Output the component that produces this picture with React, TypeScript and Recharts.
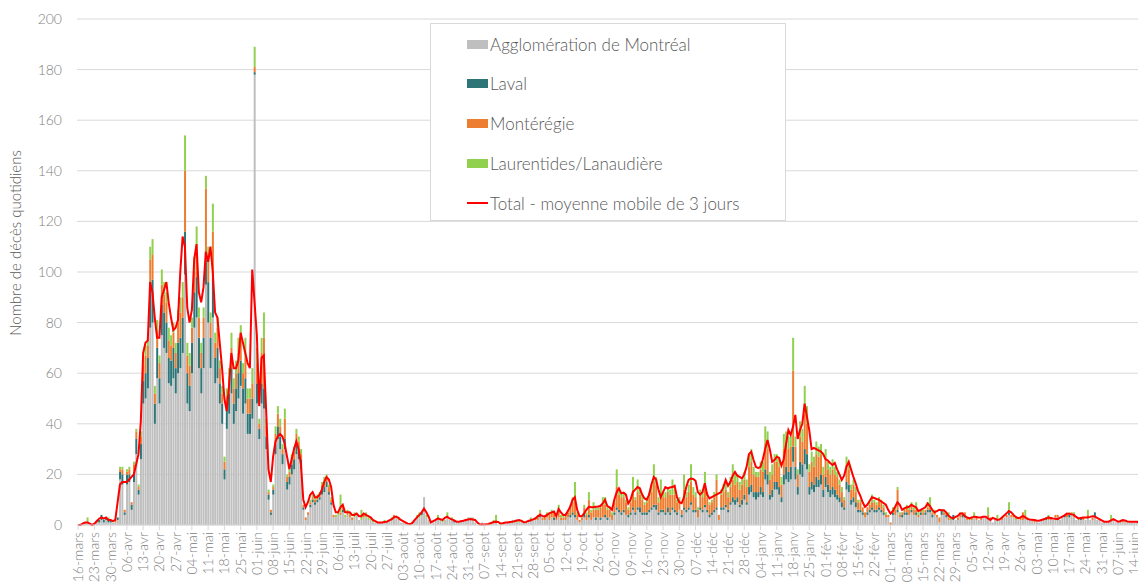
import { Bar, CartesianGrid, ComposedChart, Line, XAxis, YAxis } from "recharts";

// Décès quotidiens par région, du 16 mars 2020 au 16 juin 2021 (une ligne = une semaine)
const DEBUT = Date.UTC(2020, 2, 16);
const moisAbr = ["janv", "févr", "mars", "avr", "mai", "juin", "juil", "août", "sept", "oct", "nov", "déc"];

const agglomerationMontreal = [
  0, 0, 1, 1, 1, 0, 0, // 16-mars
  0, 1, 1, 2, 1, 2, 1, // 23-mars
  1, 1, 1, 2, 18, 16, 4, // 30-mars
  16, 17, 6, 17, 28, 12, 26, // 06-avr
  48, 50, 54, 78, 80, 40, 58, // 13-avr
  48, 75, 70, 68, 56, 55, 58, // 20-avr
  52, 60, 62, 68, 99, 48, 45, // 27-avr
  60, 78, 82, 62, 52, 62, 95, // 04-mai
  80, 62, 82, 56, 58, 48, 40, // 11-mai
  18, 38, 44, 52, 40, 45, 50, // 18-mai
  55, 44, 48, 36, 36, 42, 178, // 25-mai
  48, 34, 48, 46, 30, 10, 4, // 01-juin
  12, 28, 34, 30, 24, 30, 14, // 08-juin
  16, 20, 22, 28, 26, 22, 6, // 15-juin
  2, 4, 7, 9, 8, 9, 10, // 22-juin
  12, 13, 15, 12, 8, 3, 3, // 29-juin
  4, 4, 5, 3, 4, 3, 2, // 06-juil
  3, 4, 2, 2, 3, 3, 2, // 13-juil
  2, 1, 1, 1, 1, 1, 1, // 20-juil
  1, 2, 2, 3, 3, 2, 1, // 27-juil
  1, 1, 0, 0, 1, 2, 3, // 03-août
  3, 4, 11, 3, 2, 0, 1, // 10-août
  2, 2, 2, 1, 2, 3, 2, // 17-août
  2, 1, 1, 1, 2, 2, 2, // 24-août
  3, 2, 3, 1, 0, 0, 1, // 31-août
  0, 0, 1, 1, 1, 1, 0, // 07-sept
  0, 1, 1, 1, 1, 2, 1, // 14-sept
  2, 1, 2, 1, 1, 2, 2, // 21-sept
  2, 2, 2, 3, 2, 2, 3, // 28-sept
  2, 3, 2, 2, 3, 2, 2, // 05-oct
  2, 3, 3, 4, 3, 2, 1, // 12-oct
  2, 3, 2, 3, 2, 3, 2, // 19-oct
  3, 2, 3, 3, 2, 3, 2, // 26-oct
  4, 6, 5, 4, 5, 4, 3, // 02-nov
  4, 6, 4, 6, 5, 4, 4, // 09-nov
  4, 5, 6, 7, 6, 4, 5, // 16-nov
  5, 4, 5, 4, 6, 5, 4, // 23-nov
  6, 3, 6, 5, 6, 8, 5, // 30-nov
  5, 3, 6, 5, 7, 5, 3, // 07-déc
  4, 5, 6, 2, 6, 6, 7, // 14-déc
  5, 8, 9, 8, 9, 7, 8, // 21-déc
  10, 8, 12, 13, 11, 10, 11, // 28-déc
  12, 11, 18, 16, 10, 11, 14, // 04-janv
  14, 12, 9, 16, 18, 17, 18, // 11-janv
  25, 18, 12, 20, 19, 24, 22, // 18-janv
  12, 14, 13, 15, 15, 16, 11, // 25-janv
  15, 13, 11, 12, 11, 10, 9, // 01-févr
  7, 6, 14, 13, 8, 9, 7, // 08-févr
  5, 5, 4, 3, 4, 5, 6, // 15-févr
  5, 5, 6, 5, 4, 3, 3, // 22-févr
  0, 4, 4, 5, 3, 3, 4, // 01-mars
  4, 4, 5, 4, 4, 3, 4, // 08-mars
  4, 4, 5, 5, 3, 4, 3, // 15-mars
  1, 4, 4, 3, 2, 2, 2, // 22-mars
  2, 2, 3, 3, 3, 2, 2, // 29-mars
  2, 3, 2, 2, 2, 3, 3, // 05-avr
  3, 2, 1, 2, 2, 2, 2, // 12-avr
  3, 3, 4, 3, 3, 2, 2, // 19-avr
  2, 2, 3, 2, 2, 2, 1, // 26-avr
  2, 1, 2, 2, 2, 2, 2, // 03-mai
  2, 3, 2, 2, 3, 3, 3, // 10-mai
  3, 4, 3, 2, 2, 2, 2, // 17-mai
  2, 3, 2, 2, 3, 2, 2, // 24-mai
  1, 1, 1, 1, 2, 2, 1, // 31-mai
  1, 2, 1, 2, 1, 1, 1, // 07-juin
  1, 1, 1, // 14-juin
];

const laval = [
  0, 0, 0, 0, 0, 0, 0, // 16-mars
  0, 0, 1, 2, 1, 1, 1, // 23-mars
  1, 0, 0, 1, 3, 4, 1, // 30-mars
  4, 3, 2, 4, 6, 2, 6, // 06-avr
  9, 10, 12, 18, 17, 8, 12, // 13-avr
  10, 12, 14, 12, 10, 10, 12, // 20-avr
  10, 12, 12, 14, 17, 12, 10, // 27-avr
  12, 14, 16, 12, 10, 12, 10, // 04-mai
  16, 12, 16, 10, 12, 8, 8, // 11-mai
  4, 8, 8, 10, 8, 9, 10, // 18-mai
  10, 10, 10, 8, 8, 8, 1, // 25-mai
  8, 4, 8, 8, 5, 2, 1, // 01-juin
  2, 4, 5, 5, 4, 4, 3, // 08-juin
  3, 4, 4, 4, 3, 4, 1, // 15-juin
  0, 0, 1, 1, 1, 1, 1, // 22-juin
  2, 2, 2, 1, 1, 0, 0, // 29-juin
  0, 0, 1, 0, 0, 0, 0, // 06-juil
  0, 0, 0, 0, 0, 0, 0, // 13-juil
  0, 0, 0, 0, 0, 0, 0, // 20-juil
  0, 0, 0, 0, 0, 0, 0, // 27-juil
  0, 0, 0, 0, 0, 0, 0, // 03-août
  0, 1, 0, 0, 0, 0, 0, // 10-août
  0, 0, 0, 0, 0, 0, 0, // 17-août
  0, 1, 0, 0, 0, 0, 0, // 24-août
  0, 0, 0, 0, 0, 0, 0, // 31-août
  0, 0, 0, 0, 0, 0, 0, // 07-sept
  0, 0, 0, 0, 0, 0, 0, // 14-sept
  0, 0, 0, 0, 0, 0, 0, // 21-sept
  0, 0, 0, 1, 0, 0, 0, // 28-sept
  0, 0, 1, 0, 0, 0, 0, // 05-oct
  0, 0, 1, 1, 1, 0, 0, // 12-oct
  0, 2, 0, 1, 0, 0, 1, // 19-oct
  0, 1, 0, 1, 1, 0, 0, // 26-oct
  1, 1, 1, 1, 1, 0, 1, // 02-nov
  1, 1, 1, 1, 2, 1, 1, // 09-nov
  1, 1, 1, 1, 2, 1, 1, // 16-nov
  1, 1, 2, 1, 1, 1, 1, // 23-nov
  0, 1, 1, 1, 1, 1, 1, // 30-nov
  1, 0, 1, 1, 1, 1, 1, // 07-déc
  1, 1, 1, 0, 1, 1, 1, // 14-déc
  1, 1, 2, 2, 2, 1, 2, // 21-déc
  2, 1, 3, 3, 2, 3, 2, // 28-déc
  3, 2, 4, 4, 2, 3, 3, // 04-janv
  3, 3, 2, 4, 5, 4, 5, // 11-janv
  6, 5, 3, 5, 5, 6, 6, // 18-janv
  3, 3, 3, 4, 3, 4, 3, // 25-janv
  4, 3, 3, 3, 3, 2, 2, // 01-févr
  2, 1, 3, 3, 2, 2, 2, // 08-févr
  1, 1, 1, 0, 1, 1, 1, // 15-févr
  1, 1, 1, 1, 1, 0, 0, // 22-févr
  0, 1, 0, 1, 0, 1, 1, // 01-mars
  1, 0, 1, 0, 1, 0, 1, // 08-mars
  0, 1, 1, 1, 1, 0, 0, // 15-mars
  0, 2, 0, 1, 0, 0, 2, // 22-mars
  0, 0, 0, 1, 1, 0, 0, // 29-mars
  0, 0, 0, 0, 0, 0, 0, // 05-avr
  0, 0, 0, 0, 0, 0, 0, // 12-avr
  0, 0, 1, 0, 0, 0, 0, // 19-avr
  0, 0, 0, 0, 0, 0, 0, // 26-avr
  0, 0, 0, 0, 1, 0, 0, // 03-mai
  0, 0, 1, 0, 0, 1, 0, // 10-mai
  1, 0, 0, 0, 0, 1, 0, // 17-mai
  0, 0, 0, 0, 2, 0, 0, // 24-mai
  0, 0, 0, 0, 0, 0, 0, // 31-mai
  0, 0, 0, 0, 0, 0, 0, // 07-juin
  0, 0, 0, // 14-juin
];

const monteregie = [
  0, 0, 0, 0, 0, 0, 0, // 16-mars
  0, 0, 0, 0, 0, 0, 0, // 23-mars
  0, 0, 1, 0, 1, 2, 1, // 30-mars
  1, 2, 1, 3, 3, 1, 3, // 06-avr
  6, 7, 5, 9, 10, 4, 7, // 13-avr
  6, 8, 7, 8, 7, 6, 6, // 20-avr
  6, 8, 10, 8, 24, 7, 8, // 27-avr
  6, 8, 10, 8, 6, 8, 28, // 04-mai
  8, 6, 18, 6, 8, 6, 4, // 11-mai
  3, 5, 6, 8, 6, 6, 8, // 18-mai
  8, 6, 8, 6, 6, 6, 2, // 25-mai
  8, 2, 12, 20, 4, 1, 1, // 01-juin
  1, 4, 5, 4, 2, 8, 2, // 08-juin
  2, 3, 3, 4, 4, 2, 1, // 15-juin
  1, 1, 1, 1, 1, 1, 1, // 22-juin
  2, 2, 2, 2, 1, 1, 0, // 29-juin
  0, 1, 1, 0, 1, 1, 1, // 06-juil
  0, 0, 0, 0, 1, 0, 0, // 13-juil
  0, 0, 0, 0, 0, 0, 0, // 20-juil
  0, 0, 0, 1, 0, 0, 0, // 27-juil
  0, 0, 0, 0, 0, 0, 0, // 03-août
  0, 0, 0, 0, 0, 0, 0, // 10-août
  0, 0, 0, 0, 0, 0, 0, // 17-août
  0, 0, 0, 0, 0, 0, 0, // 24-août
  0, 0, 0, 0, 0, 0, 0, // 31-août
  0, 0, 0, 0, 0, 1, 0, // 07-sept
  0, 0, 0, 0, 0, 0, 0, // 14-sept
  0, 0, 0, 0, 0, 0, 0, // 21-sept
  0, 1, 1, 1, 1, 1, 1, // 28-sept
  2, 2, 2, 1, 3, 1, 1, // 05-oct
  2, 2, 3, 4, 7, 2, 1, // 12-oct
  1, 2, 2, 6, 3, 3, 3, // 19-oct
  3, 4, 5, 4, 3, 3, 2, // 26-oct
  4, 8, 6, 6, 5, 5, 2, // 02-nov
  4, 7, 5, 6, 5, 5, 3, // 09-nov
  4, 5, 6, 9, 8, 4, 6, // 16-nov
  5, 6, 6, 7, 5, 6, 4, // 23-nov
  3, 2, 7, 5, 6, 8, 6, // 30-nov
  5, 3, 5, 5, 7, 5, 4, // 07-déc
  4, 5, 11, 2, 5, 6, 6, // 14-déc
  5, 6, 7, 6, 6, 6, 6, // 21-déc
  6, 6, 8, 9, 7, 6, 6, // 28-déc
  7, 8, 10, 10, 6, 6, 8, // 04-janv
  8, 8, 5, 10, 9, 9, 8, // 11-janv
  30, 8, 5, 10, 9, 14, 12, // 18-janv
  6, 8, 7, 9, 9, 8, 6, // 25-janv
  7, 6, 6, 7, 6, 7, 5, // 01-févr
  4, 3, 7, 6, 4, 5, 4, // 08-févr
  3, 3, 2, 2, 2, 2, 2, // 15-févr
  3, 2, 3, 3, 2, 1, 1, // 22-févr
  1, 1, 2, 8, 1, 1, 1, // 01-mars
  2, 2, 2, 2, 1, 1, 1, // 08-mars
  1, 1, 1, 1, 1, 1, 1, // 15-mars
  2, 0, 1, 1, 1, 0, 0, // 22-mars
  0, 1, 1, 1, 1, 1, 0, // 29-mars
  1, 0, 1, 0, 1, 0, 0, // 05-avr
  1, 1, 0, 0, 0, 0, 1, // 12-avr
  0, 1, 1, 1, 1, 0, 0, // 19-avr
  1, 3, 1, 0, 0, 0, 1, // 26-avr
  0, 0, 0, 0, 0, 1, 1, // 03-mai
  0, 1, 1, 0, 0, 0, 1, // 10-mai
  1, 1, 1, 0, 0, 0, 1, // 17-mai
  0, 1, 0, 1, 0, 0, 0, // 24-mai
  0, 0, 0, 0, 0, 0, 0, // 31-mai
  0, 0, 1, 0, 0, 0, 0, // 07-juin
  0, 0, 0, // 14-juin
];

const laurentidesLanaudiere = [
  0, 0, 0, 0, 2, 0, 0, // 16-mars
  0, 1, 0, 0, 0, 0, 1, // 23-mars
  0, 0, 0, 0, 1, 1, 0, // 30-mars
  1, 1, 0, 1, 1, 1, 2, // 06-avr
  3, 4, 3, 5, 6, 3, 4, // 13-avr
  3, 6, 5, 4, 5, 4, 4, // 20-avr
  4, 5, 6, 6, 14, 5, 5, // 27-avr
  4, 6, 10, 4, 4, 4, 5, // 04-mai
  6, 4, 11, 4, 4, 3, 3, // 11-mai
  2, 3, 4, 6, 4, 5, 6, // 18-mai
  6, 4, 8, 4, 4, 6, 8, // 25-mai
  6, 2, 6, 10, 3, 1, 0, // 01-juin
  1, 3, 3, 3, 2, 4, 1, // 08-juin
  1, 1, 2, 2, 2, 2, 0, // 15-juin
  0, 0, 1, 1, 1, 1, 1, // 22-juin
  1, 2, 1, 1, 1, 0, 1, // 29-juin
  1, 7, 0, 1, 1, 1, 0, // 06-juil
  2, 0, 0, 4, 0, 2, 1, // 13-juil
  1, 1, 0, 0, 0, 0, 1, // 20-juil
  0, 0, 1, 0, 0, 1, 0, // 27-juil
  0, 0, 0, 0, 0, 0, 1, // 03-août
  2, 0, 0, 1, 0, 0, 0, // 10-août
  0, 2, 0, 1, 0, 2, 0, // 17-août
  1, 0, 0, 0, 0, 0, 0, // 24-août
  0, 1, 0, 0, 0, 0, 0, // 31-août
  0, 0, 0, 0, 1, 2, 0, // 07-sept
  1, 0, 0, 0, 0, 0, 1, // 14-sept
  0, 1, 0, 0, 0, 0, 1, // 21-sept
  0, 0, 1, 1, 0, 1, 1, // 28-sept
  1, 1, 0, 0, 2, 1, 1, // 05-oct
  0, 1, 1, 2, 6, 1, 0, // 12-oct
  0, 1, 1, 3, 1, 3, 1, // 19-oct
  1, 1, 3, 3, 1, 1, 1, // 26-oct
  1, 7, 2, 2, 2, 1, 1, // 02-nov
  1, 5, 1, 5, 2, 2, 1, // 09-nov
  1, 2, 3, 7, 3, 2, 6, // 16-nov
  2, 2, 2, 2, 6, 2, 1, // 23-nov
  2, 0, 6, 2, 3, 7, 3, // 30-nov
  2, 1, 2, 2, 6, 2, 1, // 07-déc
  1, 2, 2, 0, 2, 3, 3, // 14-déc
  2, 4, 6, 4, 3, 3, 2, // 21-déc
  3, 3, 5, 5, 3, 2, 2, // 28-déc
  3, 4, 7, 7, 3, 4, 3, // 04-janv
  3, 4, 3, 6, 5, 5, 4, // 11-janv
  13, 4, 2, 6, 5, 11, 7, // 18-janv
  3, 4, 4, 5, 4, 4, 3, // 25-janv
  4, 3, 3, 4, 3, 2, 2, // 01-févr
  2, 1, 3, 3, 2, 2, 2, // 08-févr
  1, 1, 0, 0, 0, 1, 3, // 15-févr
  1, 1, 1, 1, 1, 1, 0, // 22-févr
  0, 1, 1, 1, 1, 0, 1, // 01-mars
  1, 1, 1, 1, 3, 1, 0, // 08-mars
  1, 0, 2, 4, 1, 1, 0, // 15-mars
  0, 0, 1, 0, 2, 1, 0, // 22-mars
  0, 0, 1, 0, 0, 0, 1, // 29-mars
  0, 2, 0, 0, 0, 0, 0, // 05-avr
  3, 0, 0, 0, 2, 0, 0, // 12-avr
  0, 0, 3, 0, 0, 1, 0, // 19-avr
  0, 0, 2, 1, 0, 0, 0, // 26-avr
  0, 0, 0, 0, 0, 1, 0, // 03-mai
  0, 0, 0, 0, 0, 0, 0, // 10-mai
  0, 0, 1, 0, 1, 0, 0, // 17-mai
  0, 2, 0, 0, 0, 0, 0, // 24-mai
  0, 0, 0, 0, 2, 0, 0, // 31-mai
  0, 0, 0, 0, 0, 0, 0, // 07-juin
  0, 0, 0, // 14-juin
];

const moyenneMobile = [
  0, 0, 0.5, 1, 1, 0.5, 0, // 16-mars
  0.5, 1.5, 2.5, 3, 2.5, 3, 2, // 23-mars
  2, 1.5, 2, 9, 16, 17, 17, // 30-mars
  17, 18, 19, 20, 24, 28, 41, // 06-avr
  68, 72, 73, 96, 92, 82, 74, // 13-avr
  74, 90, 93, 96, 88, 82, 77, // 20-avr
  78, 81, 100, 114, 110, 86, 80, // 27-avr
  85, 105, 111, 92, 88, 94, 108, // 04-mai
  104, 110, 100, 84, 82, 72, 62, // 11-mai
  50, 45, 55, 68, 62, 62, 65, // 18-mai
  76, 72, 68, 64, 62, 101, 88, // 25-mai
  75, 47, 66, 67, 45, 22, 17, // 01-juin
  27, 33, 35, 36, 35, 32, 27, // 08-juin
  22, 26, 30, 33, 30, 24, 10, // 15-juin
  7, 9, 12, 13, 11, 11, 12, // 22-juin
  14, 17, 19, 18, 15, 8, 5, // 29-juin
  5, 7, 8, 5, 5, 5, 4, // 06-juil
  4, 4.5, 3.5, 3.5, 4.5, 4, 3.5, // 13-juil
  3, 2, 1.5, 1, 1, 1, 1.2, // 20-juil
  1.3, 1.8, 2.2, 3, 3.3, 2.8, 2, // 27-juil
  1.5, 1, 0.5, 0.3, 0.8, 2, 3, // 03-août
  4, 5, 6.5, 5, 3.3, 1, 1.5, // 10-août
  2, 2.6, 2.3, 2, 2.8, 3.3, 2.6, // 17-août
  2.2, 1.8, 1.3, 1.3, 1.5, 1.7, 2, // 24-août
  2.2, 2.4, 2.2, 2, 1, 0.3, 0.2, // 31-août
  0.2, 0.3, 0.4, 0.8, 1.2, 1.3, 1.2, // 07-sept
  0.5, 0.7, 1, 1, 1.2, 1.3, 1.5, // 14-sept
  1.8, 2, 1.6, 1.1, 1.2, 1.6, 1.9, // 21-sept
  2.2, 2.6, 3.4, 4, 3.6, 3.3, 4, // 28-sept
  4.6, 5, 5.3, 3.5, 6.3, 5, 4, // 05-oct
  4, 5.5, 7.2, 10, 11, 6, 3.5, // 12-oct
  3.5, 4.6, 6, 7.2, 7, 7, 7.2, // 19-oct
  7.3, 7.5, 8.5, 10, 7.5, 7, 6, // 26-oct
  10, 13, 14.5, 12.5, 12.8, 12, 8.5, // 02-nov
  10, 13, 14, 15, 14.5, 12, 10.5, // 09-nov
  10, 12, 16, 19, 18, 14, 11, // 16-nov
  13, 15, 14.5, 14.8, 15, 15.5, 11, // 23-nov
  9, 8.6, 11, 15, 17.8, 18.4, 18.2, // 30-nov
  17.5, 13, 12, 13, 16.5, 12, 10.5, // 07-déc
  11, 11.5, 12, 12.5, 13, 15, 17.8, // 14-déc
  15.5, 17, 19.5, 21, 19.5, 19, 18.4, // 21-déc
  20, 23, 28, 29, 25.7, 23, 22.5, // 28-déc
  23, 26, 30, 33.6, 30, 25, 25.7, // 04-janv
  27, 26.5, 23.5, 26, 32, 37.5, 35.6, // 11-janv
  38.9, 43.5, 34, 37.5, 40, 48, 42.8, // 18-janv
  37.5, 30, 30.5, 30, 29.5, 29, 28, // 25-janv
  26, 25.5, 24.5, 23.7, 24.5, 22, 20, // 01-févr
  17.8, 19.5, 23, 25, 22, 19, 16.5, // 08-févr
  13.5, 11.5, 9, 7.2, 8, 9.5, 11, // 15-févr
  10.7, 10.3, 10, 9.3, 8.7, 8, 6, // 22-févr
  4.5, 5.5, 7.2, 9, 8, 6, 6.6, // 01-mars
  7, 7.2, 8, 7.5, 7, 5.5, 6, // 08-mars
  6.5, 7, 8.5, 7.5, 6, 5, 5.5, // 15-mars
  6, 5.8, 5.8, 5, 3.6, 3, 2.6, // 22-mars
  3.2, 3.6, 4.5, 4.5, 3.5, 3, 2.6, // 29-mars
  3, 3.3, 3.2, 3, 3.1, 3.3, 3.3, // 05-avr
  2.6, 2, 2.8, 2.5, 2, 2.2, 3, // 12-avr
  3.8, 4.6, 5.5, 5, 4, 3.2, 2.6, // 19-avr
  3, 3.6, 3, 2.4, 2.2, 2.1, 2, // 26-avr
  1.8, 1.7, 2, 2.3, 2.6, 3, 2.8, // 03-mai
  2.6, 2.5, 2.3, 2.8, 3.3, 3.8, 4.5, // 10-mai
  4.4, 4.2, 4, 3.2, 2.6, 2.8, 3, // 17-mai
  3, 3, 3.2, 3.5, 3.4, 2.8, 2.3, // 24-mai
  1.8, 1.3, 1.3, 1.3, 1.8, 2.3, 1.8, // 31-mai
  1.3, 1.5, 2, 1.8, 1.4, 1.3, 1.3, // 07-juin
  1.3, 1.3, 1.2, // 14-juin
];

const graduationsY = [0, 20, 40, 60, 80, 100, 120, 140, 160, 180, 200];

const legende = [
  { nom: "Agglomération de Montréal", couleur: "#bfbfbf", type: "carre" },
  { nom: "Laval", couleur: "#2e7577", type: "carre" },
  { nom: "Montérégie", couleur: "#ed7d31", type: "carre" },
  { nom: "Laurentides/Lanaudière", couleur: "#92d050", type: "carre" },
  { nom: "Total - moyenne mobile de 3 jours", couleur: "#ff0000", type: "ligne" },
];

const jours = agglomerationMontreal.map((_, i) =>
  new Date(DEBUT + i * 86400000).toISOString().slice(0, 10)
);

const donnees = jours.map((jour, i) => ({
  jour,
  montreal: agglomerationMontreal[i],
  laval: laval[i],
  monteregie: monteregie[i],
  laurentides: laurentidesLanaudiere[i],
  moyenne: moyenneMobile[i],
}));

const graduationsX = jours.filter((_, i) => i % 7 === 0);

function formatJour(iso: string) {
  const d = new Date(iso + "T00:00:00Z");
  return `${String(d.getUTCDate()).padStart(2, "0")}-${moisAbr[d.getUTCMonth()]}`;
}

const police = "Lato, 'Open Sans', sans-serif";

function TickDate({ x, y, payload }: { x?: number; y?: number; payload?: { value: string } }) {
  if (x === undefined || y === undefined || !payload) return null;
  return (
    <text
      x={x}
      y={y}
      dy={5}
      transform={`rotate(-90, ${x}, ${y})`}
      textAnchor="end"
      fill="#808080"
      fontSize={14}
      fontWeight={300}
      fontFamily={police}
    >
      {formatJour(payload.value)}
    </text>
  );
}

export default function App() {
  return (
    <div
      style={{
        position: "fixed",
        left: 0,
        top: 0,
        width: 1138,
        height: 582,
        overflow: "hidden",
        background: "#ffffff",
        fontFamily: police,
        fontWeight: 300,
      }}
    >
      <ComposedChart
        width={1160}
        height={582}
        data={donnees}
        margin={{ top: 19, right: 20, bottom: 0, left: 0 }}
        barCategoryGap="12%"
      >
        <CartesianGrid vertical={false} stroke="#d9d9d9" />
        <XAxis
          dataKey="jour"
          ticks={graduationsX}
          interval={0}
          height={57}
          tick={<TickDate />}
          tickSize={5}
          tickLine={{ stroke: "#d9d9d9" }}
          axisLine={{ stroke: "#d9d9d9" }}
        />
        <YAxis
          domain={[0, 200]}
          ticks={graduationsY}
          width={77}
          axisLine={false}
          tickLine={false}
          tickMargin={9}
          tick={{ fill: "#808080", fontSize: 14, fontFamily: police, fontWeight: 300 }}
        />
        <Bar dataKey="montreal" stackId="a" fill="#bfbfbf" isAnimationActive={false} />
        <Bar dataKey="laval" stackId="a" fill="#2e7577" isAnimationActive={false} />
        <Bar dataKey="monteregie" stackId="a" fill="#ed7d31" isAnimationActive={false} />
        <Bar dataKey="laurentides" stackId="a" fill="#92d050" isAnimationActive={false} />
        <Line
          type="linear"
          dataKey="moyenne"
          stroke="#ff0000"
          strokeWidth={2}
          dot={false}
          activeDot={false}
          isAnimationActive={false}
        />
      </ComposedChart>

      <div
        style={{
          position: "absolute",
          left: 15,
          top: 243,
          transform: "translate(-50%, -50%) rotate(-90deg)",
          whiteSpace: "nowrap",
          fontSize: 15,
          color: "#595959",
        }}
      >
        Nombre de décès quotidiens
      </div>

      <div
        style={{
          position: "absolute",
          left: 430,
          top: 23,
          width: 356,
          height: 198,
          border: "1px solid #d9d9d9",
          background: "#ffffff",
          boxSizing: "border-box",
        }}
      >
        {legende.map((item, i) => (
          <div
            key={item.nom}
            style={{
              position: "absolute",
              left: 36,
              top: 20 + i * 39.8 - 12,
              height: 24,
              display: "flex",
              alignItems: "center",
              whiteSpace: "nowrap",
              fontSize: 17,
              color: "#595959",
            }}
          >
            <span
              style={{
                display: "inline-block",
                width: 21,
                height: item.type === "ligne" ? 2 : 9,
                background: item.couleur,
                marginRight: 2,
              }}
            />
            {item.nom}
          </div>
        ))}
      </div>
    </div>
  );
}
